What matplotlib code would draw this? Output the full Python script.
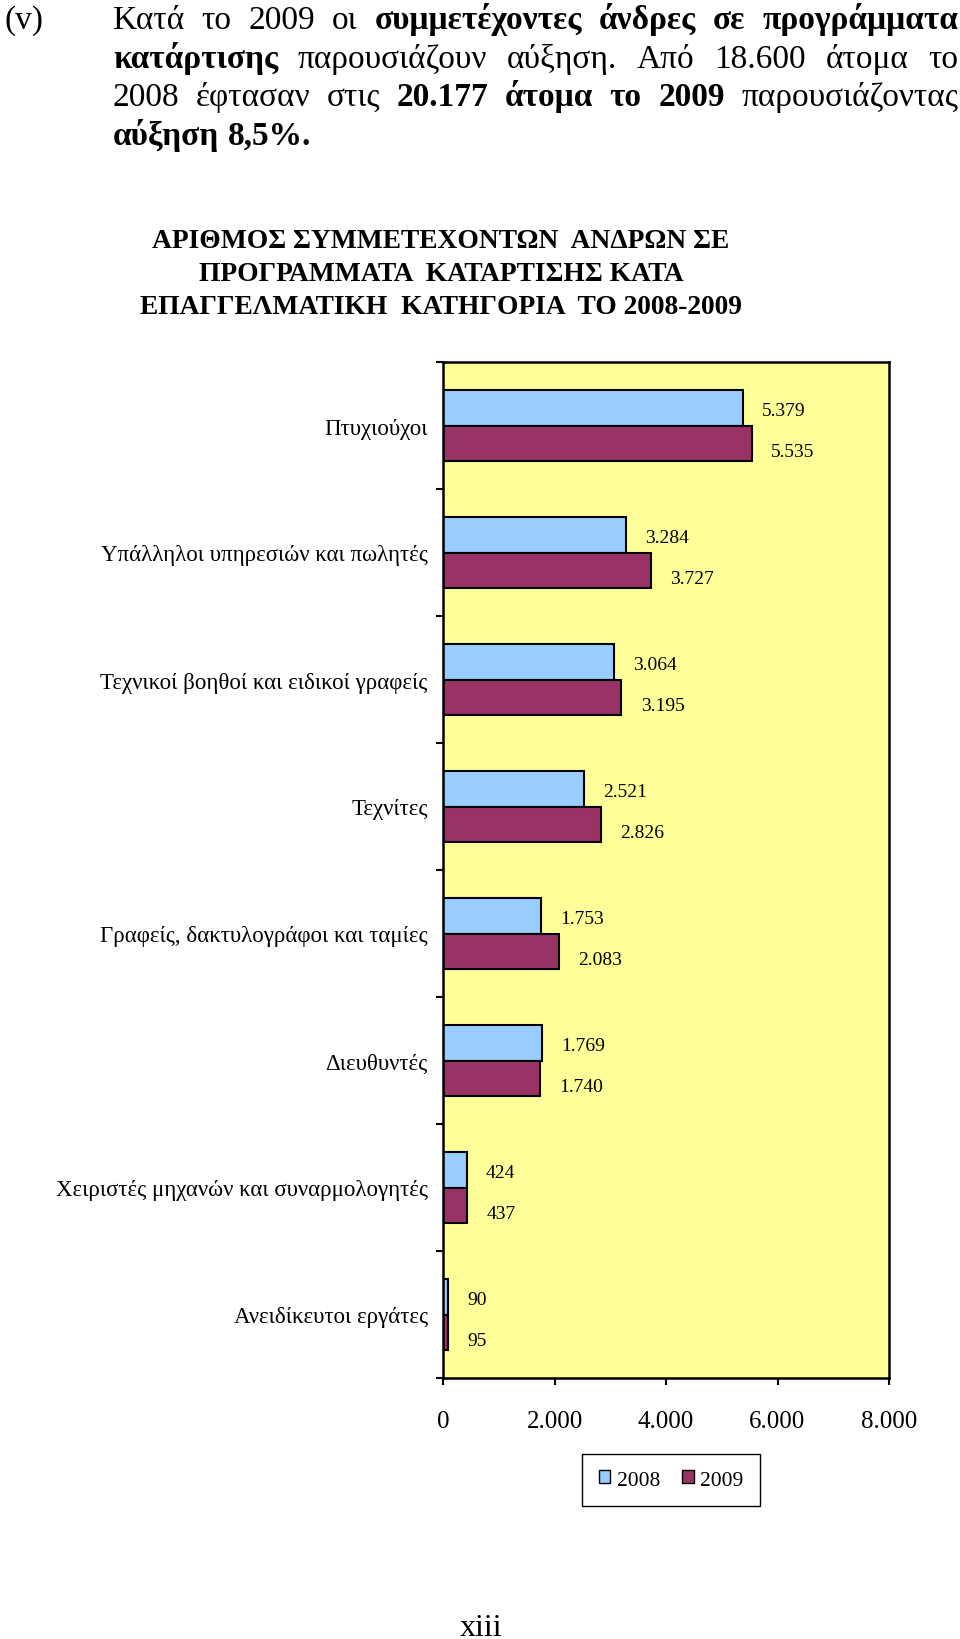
import matplotlib
matplotlib.use("Agg")
import matplotlib.pyplot as plt
import numpy as np
from matplotlib.ticker import FuncFormatter, FixedLocator
from matplotlib.patches import Patch

plt.rcParams['font.family'] = ['Liberation Serif', 'DejaVu Serif']

categories = ["Πτυχιούχοι", "Υπάλληλοι υπηρεσιών και πωλητές",
              "Τεχνικοί βοηθοί και ειδικοί γραφείς", "Τεχνίτες",
              "Γραφείς, δακτυλογράφοι και ταμίες", "Διευθυντές",
              "Χειριστές μηχανών και συναρμολογητές", "Ανειδίκευτοι εργάτες"]
v2008 = [5379, 3284, 3064, 2521, 1753, 1769, 424, 90]
v2009 = [5535, 3727, 3195, 2826, 2083, 1740, 437, 95]
years = ["2008", "2009"]
xticks = [0, 2000, 4000, 6000, 8000]

title = ["ΑΡΙΘΜΟΣ ΣΥΜΜΕΤΕΧΟΝΤΩΝ  ΑΝΔΡΩΝ ΣΕ",
         "ΠΡΟΓΡΑΜΜΑΤΑ  ΚΑΤΑΡΤΙΣΗΣ ΚΑΤΑ",
         "ΕΠΑΓΓΕΛΜΑΤΙΚΗ  ΚΑΤΗΓΟΡΙΑ  ΤΟ 2008-2009"]

# header paragraph: (word, bold)
para = [
    [("Κατά", 0), ("το", 0), ("2009", 0), ("οι", 0), ("συμμετέχοντες", 1),
     ("άνδρες", 1), ("σε", 1), ("προγράμματα", 1)],
    [("κατάρτισης", 1), ("παρουσιάζουν", 0), ("αύξηση.", 0), ("Από", 0),
     ("18.600", 0), ("άτομα", 0), ("το", 0)],
    [("2008", 0), ("έφτασαν", 0), ("στις", 0), ("20.177", 1), ("άτομα", 1),
     ("το", 1), ("2009", 1), ("παρουσιάζοντας", 0)],
    [("αύξηση", 1), ("8,5%.", 1)],
]

W, H = 960, 1640
fig = plt.figure(figsize=(W / 100, H / 100), dpi=100)

def fx(px):
    return px / W

def fy(py):
    return 1 - py / H

# paragraph, justified
renderer = fig.canvas.get_renderer()
hdr_size = 24
x0, x1 = 113, 958
baselines = [29, 68, 106, 145]
fig.text(fx(5), fy(baselines[0]), "(v)", fontsize=hdr_size, va='baseline')
for li, line in enumerate(para):
    texts = []
    widths = []
    for word, bold in line:
        t = fig.text(0, fy(baselines[li]), word, fontsize=hdr_size,
                     fontweight='bold' if bold else 'normal', va='baseline')
        texts.append(t)
        widths.append(t.get_window_extent(renderer).width)
    if li < len(para) - 1:
        gap = (x1 - x0 - sum(widths)) / (len(line) - 1)
    else:
        gap = hdr_size * 100 / 72 * 0.25
    x = x0
    for t, w in zip(texts, widths):
        t.set_x(fx(x))
        x += w + gap

# chart title
for i, line in enumerate(title):
    fig.text(fx(441), fy(241 + i * 33.5), line, fontsize=19.8, fontweight='bold',
             ha='center', va='center')

ax = fig.add_axes([fx(443), fy(1379), fx(889) - fx(443), (1379 - 363) / H])
ax.set_facecolor('#FFFF99')

y = np.arange(len(categories))
h = 0.276
b1 = ax.barh(y - h / 2, v2008, height=h, color='#99CCFF', edgecolor='black', linewidth=1.5, label=years[0])
b2 = ax.barh(y + h / 2, v2009, height=h, color='#993366', edgecolor='black', linewidth=1.5, label=years[1])

fmt = lambda v: f"{int(v):,}".replace(",", ".")
for bars, vals, dy in ((b1, v2008, -2), (b2, v2009, -6)):
    for bar, v in zip(bars, vals):
        ax.annotate(fmt(v), (v, bar.get_y() + bar.get_height() / 2),
                    xytext=(14, dy), textcoords='offset points',
                    ha='left', va='center', fontsize=14)

ax.set_xlim(0, 8000)
ax.set_ylim(len(categories) - 0.5, -0.5)
ax.xaxis.set_major_locator(FixedLocator(xticks))
ax.xaxis.set_major_formatter(FuncFormatter(lambda v, p: fmt(v)))
ax.set_yticks(y)
ax.set_yticklabels(categories)
ax.yaxis.set_minor_locator(FixedLocator(np.arange(len(categories) + 1) - 0.5))
ax.tick_params(axis='y', which='major', length=0, pad=11, labelsize=16.5)
ax.tick_params(axis='y', which='minor', length=5, width=1.5)
ax.tick_params(axis='x', length=5, width=1.5, pad=18, labelsize=18)
for s in ax.spines.values():
    s.set_linewidth(1.8)

fig.legend(handles=[Patch(facecolor='#99CCFF', edgecolor='black'),
                    Patch(facecolor='#993366', edgecolor='black')],
           labels=years, loc='center', bbox_to_anchor=(fx(671), fy(1481)),
           ncol=2, fontsize=15.5, fancybox=False, edgecolor='black',
           framealpha=1, handlelength=0.55, handleheight=0.55,
           handletextpad=0.3, columnspacing=1.0, borderpad=0.75)

fig.text(fx(481), fy(1614), "xiii", fontsize=23, ha='center', va='top')

fig.savefig("out.png", dpi=100)
